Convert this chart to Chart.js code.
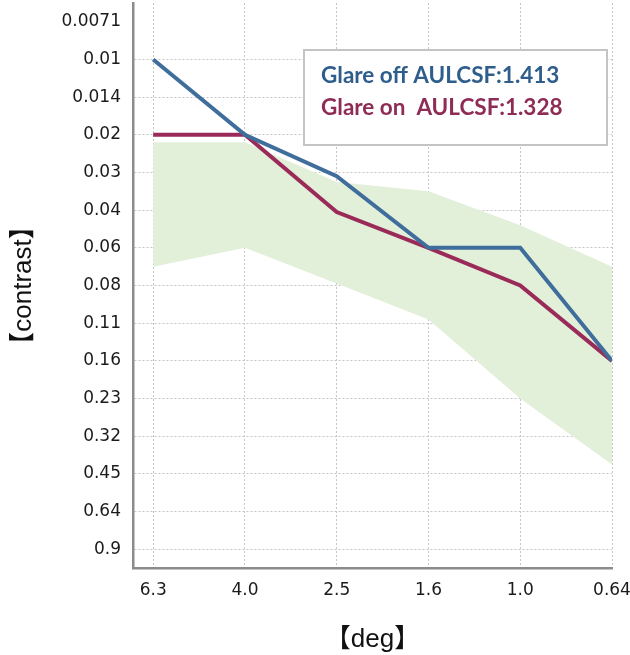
<!DOCTYPE html>
<html>
<head>
<meta charset="utf-8">
<script src="https://cdn.jsdelivr.net/npm/chart.js@4/dist/chart.umd.min.js"></script>
<style>
  html, body { margin: 0; padding: 0; background: #fff; }
  #wrap { width: 630px; height: 655px; }
</style>
</head>
<body>
<div id="wrap"><canvas id="chart" width="630" height="655"></canvas></div>
<script>
// x categories (visual angle, deg)
const degLabels = ['6.3', '4.0', '2.5', '1.6', '1.0', '0.64'];
// y levels (contrast), plotted by level index 0..14
const contrastLabels = ['0.0071', '0.01', '0.014', '0.02', '0.03', '0.04', '0.06', '0.08',
    '0.11', '0.16', '0.23', '0.32', '0.45', '0.64', '0.9'];

// values as level index
const glareOff = [1, 3, 4.1, 6, 6, 9];
const glareOn = [3, 3, 5.05, 6, 7, 9];
const normalUpper = [3.2, 3.2, 4.25, 4.5, 5.4, 6.5];
const normalLower = [6.5, 6.0, 6.95, 7.9, 10.0, 11.75];

const legendLines = [
    { text: 'Glare off AULCSF:1.413', color: '#2f5e8c' },
    { text: 'Glare on  AULCSF:1.328', color: '#8f2c55' }
];

const toPts = arr => arr.map((v, i) => ({ x: i, y: v }));

// white box with the AULCSF values
const boxPlugin = {
    id: 'aulcsfBox',
    afterDatasetsDraw(chart) {
        const ctx = chart.ctx;
        ctx.save();
        ctx.fillStyle = '#fff';
        ctx.fillRect(304, 50, 303, 95);
        ctx.strokeStyle = '#c4c4c4';
        ctx.lineWidth = 2;
        ctx.strokeRect(304, 50, 303, 95);
        ctx.font = 'bold 22.5px Lato';
        ctx.textBaseline = 'middle';
        ctx.textAlign = 'left';
        legendLines.forEach((l, i) => {
            ctx.fillStyle = l.color;
            ctx.fillText(l.text, 321, 76 + i * 32);
        });
        ctx.restore();
    }
};

const tickFont = { family: 'DejaVu Sans', size: 17 };
const titleFont = { family: "'Liberation Sans', 'Noto Sans CJK JP'", size: 26 };

const ctx = document.getElementById('chart').getContext('2d');
new Chart(ctx, {
    type: 'line',
    data: {
        datasets: [
            {
                label: 'Glare off',
                data: toPts(glareOff),
                borderColor: '#3f6e9c',
                borderWidth: 4,
                pointRadius: 0,
                fill: false,
                tension: 0
            },
            {
                label: 'Glare on',
                data: toPts(glareOn),
                borderColor: '#9a2b58',
                borderWidth: 4,
                pointRadius: 0,
                fill: false,
                tension: 0
            },
            {
                label: 'normal upper',
                data: toPts(normalUpper),
                borderWidth: 0,
                borderColor: 'rgba(0,0,0,0)',
                backgroundColor: '#e2efd9',
                pointRadius: 0,
                fill: '+1'
            },
            {
                label: 'normal lower',
                data: toPts(normalLower),
                borderWidth: 0,
                borderColor: 'rgba(0,0,0,0)',
                pointRadius: 0,
                fill: false
            }
        ]
    },
    options: {
        responsive: false,
        animation: false,
        layout: { autoPadding: false, padding: { top: 3, right: 18, left: 0, bottom: 0 } },
        plugins: {
            legend: { display: false },
            tooltip: { enabled: false }
        },
        scales: {
            x: {
                type: 'linear',
                min: -0.22,
                max: 5,
                afterBuildTicks: s => { s.ticks = degLabels.map((_, i) => ({ value: i })); },
                afterFit: s => { s.height = 87; s.paddingLeft = 0; s.paddingRight = 0; },
                ticks: {
                    callback: v => degLabels[v],
                    color: '#1a1a1a',
                    font: tickFont,
                    padding: 12,
                    maxRotation: 0,
                    autoSkip: false
                },
                grid: {
                    color: '#c6c6c6',
                    lineWidth: 1,
                    drawTicks: false
                },
                border: { color: '#8c8c8c', width: 2.5, dash: [2, 2] },
                title: {
                    display: true,
                    text: '【deg】',
                    color: '#111',
                    font: titleFont,
                    padding: { top: 10, bottom: 0 }
                }
            },
            y: {
                type: 'linear',
                reverse: true,
                min: -0.5,
                max: 14.5,
                afterBuildTicks: s => { s.ticks = contrastLabels.map((_, i) => ({ value: i })); },
                afterFit: s => { s.width = 133; s.paddingTop = 0; s.paddingBottom = 0; },
                ticks: {
                    callback: v => contrastLabels[v],
                    color: '#1a1a1a',
                    font: tickFont,
                    padding: 12,
                    autoSkip: false
                },
                grid: {
                    color: c => (c.tick && c.tick.value === 0) ? 'rgba(0,0,0,0)' : '#c6c6c6',
                    lineWidth: 1,
                    drawTicks: false
                },
                border: { color: '#8c8c8c', width: 2.5, dash: [2, 2] },
                title: {
                    display: true,
                    text: '【contrast】',
                    color: '#111',
                    font: titleFont,
                    padding: { top: 8, bottom: 10 }
                }
            }
        }
    },
    plugins: [boxPlugin]
});
</script>
</body>
</html>
